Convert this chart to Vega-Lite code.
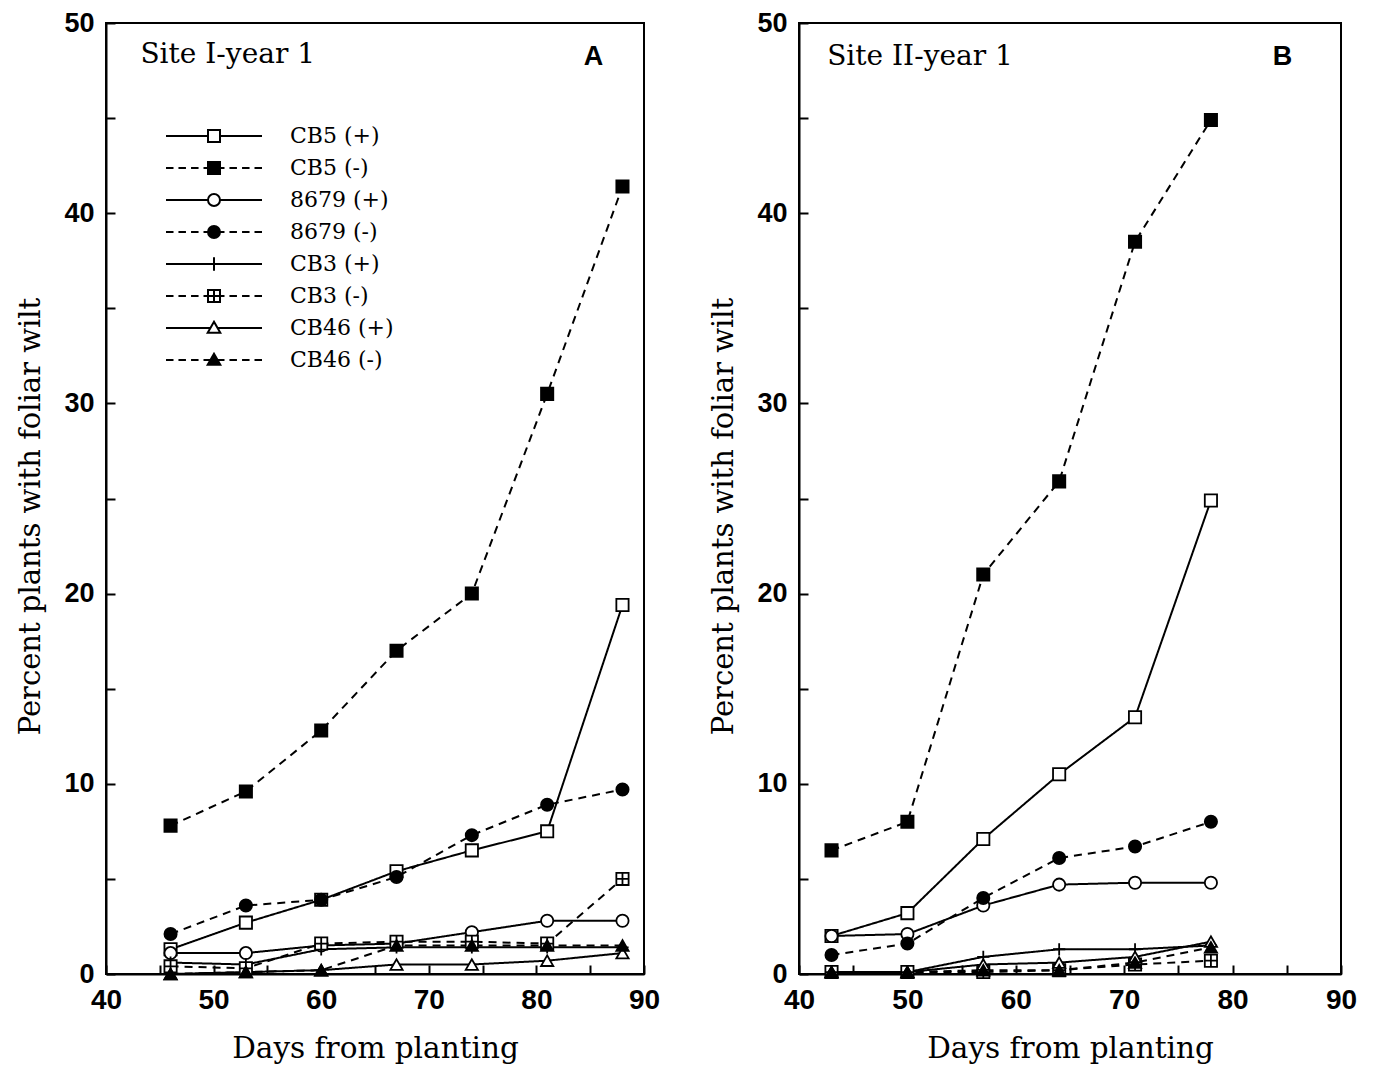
{
  "$schema": "https://vega.github.io/schema/vega-lite/v6.json",
  "background": "white",
  "padding": {"left": 15, "top": 8, "right": 10, "bottom": 2},
  "config": {
    "view": {"stroke": "black", "strokeWidth": 2},
    "axis": {
      "domainColor": "black", "domainWidth": 2, "tickColor": "black", "tickWidth": 2,
      "labelFont": "Liberation Sans", "labelFontWeight": "bold", "labelColor": "black", "labelFlush": false,
      "titleFont": "DejaVu Serif", "titleFontWeight": "normal", "titleColor": "black", "grid": false
    },
    "legend": {"padding": 0}
  },
  "datasets": {
    "siteA": [
      {"series": "CB5 (+)", "day": 46, "pct": 1.3}, {"series": "CB5 (+)", "day": 53, "pct": 2.7}, {"series": "CB5 (+)", "day": 60, "pct": 3.9}, {"series": "CB5 (+)", "day": 67, "pct": 5.4}, {"series": "CB5 (+)", "day": 74, "pct": 6.5}, {"series": "CB5 (+)", "day": 81, "pct": 7.5}, {"series": "CB5 (+)", "day": 88, "pct": 19.4},
      {"series": "CB5 (-)", "day": 46, "pct": 7.8}, {"series": "CB5 (-)", "day": 53, "pct": 9.6}, {"series": "CB5 (-)", "day": 60, "pct": 12.8}, {"series": "CB5 (-)", "day": 67, "pct": 17.0}, {"series": "CB5 (-)", "day": 74, "pct": 20.0}, {"series": "CB5 (-)", "day": 81, "pct": 30.5}, {"series": "CB5 (-)", "day": 88, "pct": 41.4},
      {"series": "8679 (+)", "day": 46, "pct": 1.1}, {"series": "8679 (+)", "day": 53, "pct": 1.1}, {"series": "8679 (+)", "day": 60, "pct": 1.5}, {"series": "8679 (+)", "day": 67, "pct": 1.6}, {"series": "8679 (+)", "day": 74, "pct": 2.2}, {"series": "8679 (+)", "day": 81, "pct": 2.8}, {"series": "8679 (+)", "day": 88, "pct": 2.8},
      {"series": "8679 (-)", "day": 46, "pct": 2.1}, {"series": "8679 (-)", "day": 53, "pct": 3.6}, {"series": "8679 (-)", "day": 60, "pct": 3.9}, {"series": "8679 (-)", "day": 67, "pct": 5.1}, {"series": "8679 (-)", "day": 74, "pct": 7.3}, {"series": "8679 (-)", "day": 81, "pct": 8.9}, {"series": "8679 (-)", "day": 88, "pct": 9.7},
      {"series": "CB3 (+)", "day": 46, "pct": 0.6}, {"series": "CB3 (+)", "day": 53, "pct": 0.5}, {"series": "CB3 (+)", "day": 60, "pct": 1.3}, {"series": "CB3 (+)", "day": 67, "pct": 1.4}, {"series": "CB3 (+)", "day": 74, "pct": 1.4}, {"series": "CB3 (+)", "day": 81, "pct": 1.4}, {"series": "CB3 (+)", "day": 88, "pct": 1.4},
      {"series": "CB3 (-)", "day": 46, "pct": 0.4}, {"series": "CB3 (-)", "day": 53, "pct": 0.3}, {"series": "CB3 (-)", "day": 60, "pct": 1.6}, {"series": "CB3 (-)", "day": 67, "pct": 1.7}, {"series": "CB3 (-)", "day": 74, "pct": 1.7}, {"series": "CB3 (-)", "day": 81, "pct": 1.6}, {"series": "CB3 (-)", "day": 88, "pct": 5.0},
      {"series": "CB46 (+)", "day": 46, "pct": 0.0}, {"series": "CB46 (+)", "day": 53, "pct": 0.1}, {"series": "CB46 (+)", "day": 60, "pct": 0.2}, {"series": "CB46 (+)", "day": 67, "pct": 0.5}, {"series": "CB46 (+)", "day": 74, "pct": 0.5}, {"series": "CB46 (+)", "day": 81, "pct": 0.7}, {"series": "CB46 (+)", "day": 88, "pct": 1.1},
      {"series": "CB46 (-)", "day": 46, "pct": 0.0}, {"series": "CB46 (-)", "day": 53, "pct": 0.1}, {"series": "CB46 (-)", "day": 60, "pct": 0.2}, {"series": "CB46 (-)", "day": 67, "pct": 1.5}, {"series": "CB46 (-)", "day": 74, "pct": 1.5}, {"series": "CB46 (-)", "day": 81, "pct": 1.5}, {"series": "CB46 (-)", "day": 88, "pct": 1.5}
    ],
    "siteB": [
      {"series": "CB5 (+)", "day": 43, "pct": 2.0}, {"series": "CB5 (+)", "day": 50, "pct": 3.2}, {"series": "CB5 (+)", "day": 57, "pct": 7.1}, {"series": "CB5 (+)", "day": 64, "pct": 10.5}, {"series": "CB5 (+)", "day": 71, "pct": 13.5}, {"series": "CB5 (+)", "day": 78, "pct": 24.9},
      {"series": "CB5 (-)", "day": 43, "pct": 6.5}, {"series": "CB5 (-)", "day": 50, "pct": 8.0}, {"series": "CB5 (-)", "day": 57, "pct": 21.0}, {"series": "CB5 (-)", "day": 64, "pct": 25.9}, {"series": "CB5 (-)", "day": 71, "pct": 38.5}, {"series": "CB5 (-)", "day": 78, "pct": 44.9},
      {"series": "8679 (+)", "day": 43, "pct": 2.0}, {"series": "8679 (+)", "day": 50, "pct": 2.1}, {"series": "8679 (+)", "day": 57, "pct": 3.6}, {"series": "8679 (+)", "day": 64, "pct": 4.7}, {"series": "8679 (+)", "day": 71, "pct": 4.8}, {"series": "8679 (+)", "day": 78, "pct": 4.8},
      {"series": "8679 (-)", "day": 43, "pct": 1.0}, {"series": "8679 (-)", "day": 50, "pct": 1.6}, {"series": "8679 (-)", "day": 57, "pct": 4.0}, {"series": "8679 (-)", "day": 64, "pct": 6.1}, {"series": "8679 (-)", "day": 71, "pct": 6.7}, {"series": "8679 (-)", "day": 78, "pct": 8.0},
      {"series": "CB3 (+)", "day": 43, "pct": 0.1}, {"series": "CB3 (+)", "day": 50, "pct": 0.1}, {"series": "CB3 (+)", "day": 57, "pct": 0.9}, {"series": "CB3 (+)", "day": 64, "pct": 1.3}, {"series": "CB3 (+)", "day": 71, "pct": 1.3}, {"series": "CB3 (+)", "day": 78, "pct": 1.5},
      {"series": "CB3 (-)", "day": 43, "pct": 0.1}, {"series": "CB3 (-)", "day": 50, "pct": 0.1}, {"series": "CB3 (-)", "day": 57, "pct": 0.1}, {"series": "CB3 (-)", "day": 64, "pct": 0.2}, {"series": "CB3 (-)", "day": 71, "pct": 0.5}, {"series": "CB3 (-)", "day": 78, "pct": 0.7},
      {"series": "CB46 (+)", "day": 43, "pct": 0.1}, {"series": "CB46 (+)", "day": 50, "pct": 0.1}, {"series": "CB46 (+)", "day": 57, "pct": 0.5}, {"series": "CB46 (+)", "day": 64, "pct": 0.6}, {"series": "CB46 (+)", "day": 71, "pct": 0.9}, {"series": "CB46 (+)", "day": 78, "pct": 1.7},
      {"series": "CB46 (-)", "day": 43, "pct": 0.1}, {"series": "CB46 (-)", "day": 50, "pct": 0.1}, {"series": "CB46 (-)", "day": 57, "pct": 0.2}, {"series": "CB46 (-)", "day": 64, "pct": 0.2}, {"series": "CB46 (-)", "day": 71, "pct": 0.6}, {"series": "CB46 (-)", "day": 78, "pct": 1.4}
    ],
    "labelA": [{"site": "Site I-year 1", "letter": "A"}],
    "labelB": [{"site": "Site II-year 1", "letter": "B"}]
  },
  "spacing": 47,
  "resolve": {
    "scale": {"shape": "independent", "fill": "independent", "strokeDash": "independent", "stroke": "independent"},
    "legend": {"shape": "independent", "fill": "independent", "strokeDash": "independent", "stroke": "independent"}
  },
  "hconcat": [
    {
      "width": 538,
      "height": 951,
      "encoding": {
        "x": {"type": "quantitative", "scale": {"domain": [40, 90], "nice": false, "zero": false},
          "axis": {"title": "Days from planting", "titleFontSize": 29.5, "titlePadding": 20, "values": [40, 45, 50, 55, 60, 65, 70, 75, 80, 85, 90],
            "labelExpr": "datum.value % 10 === 0 ? datum.label : ''", "labelFontSize": 28, "labelPadding": 21, "tickSize": -9}},
        "y": {"type": "quantitative", "scale": {"domain": [0, 50], "nice": false},
          "axis": {"title": "Percent plants with foliar wilt", "titleFontSize": 29, "titlePadding": 18, "titleY": 493, "values": [0, 5, 10, 15, 20, 25, 30, 35, 40, 45, 50],
            "labelExpr": "datum.value % 10 === 0 ? datum.label : ''", "labelFontSize": 27, "labelPadding": 21, "tickSize": -9}}
      },
      "layer": [
        {
          "data": {"name": "siteA"},
          "mark": {"type": "line", "stroke": "black", "strokeWidth": 2},
          "encoding": {
            "x": {"field": "day", "type": "quantitative"},
            "y": {"field": "pct", "type": "quantitative"},
            "detail": {"field": "series"},
            "strokeDash": {"field": "series", "type": "nominal", "legend": null,
              "scale": {"domain": ["CB5 (+)", "CB5 (-)", "8679 (+)", "8679 (-)", "CB3 (+)", "CB3 (-)", "CB46 (+)", "CB46 (-)"],
                "range": [[1, 0], [8, 6], [1, 0], [8, 6], [1, 0], [8, 6], [1, 0], [8, 6]]}}
          }
        },
        {
          "data": {"name": "siteA"},
          "mark": {"type": "point", "filled": true, "stroke": "black", "strokeWidth": 1.8, "size": 150, "opacity": 1},
          "encoding": {
            "x": {"field": "day", "type": "quantitative"},
            "y": {"field": "pct", "type": "quantitative"},
            "shape": {"field": "series", "type": "nominal", "legend": null,
              "scale": {"domain": ["CB5 (+)", "CB5 (-)", "8679 (+)", "8679 (-)", "CB3 (+)", "CB3 (-)", "CB46 (+)", "CB46 (-)"],
                "range": ["square", "square", "circle", "circle", "M0,-1V1M-1,0H1", "M-1,-1H1V1H-1ZM0,-1V1M-1,0H1", "triangle-up", "triangle-up"]}},
            "fill": {"field": "series", "type": "nominal", "legend": null,
              "scale": {"domain": ["CB5 (+)", "CB5 (-)", "8679 (+)", "8679 (-)", "CB3 (+)", "CB3 (-)", "CB46 (+)", "CB46 (-)"],
                "range": ["white", "black", "white", "black", "white", "white", "white", "black"]}}
          }
        },
        {
          "data": {"name": "siteA"},
          "transform": [{"filter": "false"}],
          "mark": {"type": "point", "filled": true, "stroke": "black", "strokeWidth": 2, "opacity": 1},
          "encoding": {
            "x": {"field": "day", "type": "quantitative"},
            "y": {"field": "pct", "type": "quantitative"},
            "shape": {"field": "series", "type": "nominal", "title": null,
              "scale": {"domain": ["CB5 (+)", "CB5 (-)", "8679 (+)", "8679 (-)", "CB3 (+)", "CB3 (-)", "CB46 (+)", "CB46 (-)"],
                "range": [
                  "M-3.2,0H-0.4M0.4,0H3.2M-0.4,-0.4H0.4V0.4H-0.4Z",
                  "M-3.2,0H-2.7M-2.37,0H-1.87M-1.53,0H-1.03M-0.7,0H-0.4M0.4,0H0.7M1.03,0H1.53M1.87,0H2.37M2.7,0H3.2M-0.4,-0.4H0.4V0.4H-0.4Z",
                  "M-3.2,0H-0.4M0.4,0H3.2M-0.4,0A0.4,0.4,0,1,0,0.4,0A0.4,0.4,0,1,0,-0.4,0Z",
                  "M-3.2,0H-2.7M-2.37,0H-1.87M-1.53,0H-1.03M-0.7,0H-0.4M0.4,0H0.7M1.03,0H1.53M1.87,0H2.37M2.7,0H3.2M-0.4,0A0.4,0.4,0,1,0,0.4,0A0.4,0.4,0,1,0,-0.4,0Z",
                  "M-3.2,0H3.2M0,-0.45V0.45",
                  "M-3.2,0H-2.7M-2.37,0H-1.87M-1.53,0H-1.03M-0.7,0H-0.4M0.4,0H0.7M1.03,0H1.53M1.87,0H2.37M2.7,0H3.2M-0.4,-0.4H0.4V0.4H-0.4ZM0,-0.4V0.4M-0.4,0H0.4",
                  "M-3.2,0H-0.24M0.24,0H3.2M0,-0.42L0.42,0.32H-0.42Z",
                  "M-3.2,0H-2.7M-2.37,0H-1.87M-1.53,0H-1.03M-0.7,0H-0.24M0.24,0H0.7M1.03,0H1.53M1.87,0H2.37M2.7,0H3.2M0,-0.42L0.42,0.32H-0.42Z"
                ]},
              "legend": {"orient": "none", "legendX": 92, "legendY": 97, "symbolSize": 900, "symbolStrokeWidth": 2, "symbolStrokeColor": "black",
                "labelFont": "DejaVu Serif", "labelFontSize": 22, "labelColor": "black", "labelOffset": 60, "rowPadding": 5, "labelLimit": 300}},
            "fill": {"field": "series", "type": "nominal", "title": null,
              "scale": {"domain": ["CB5 (+)", "CB5 (-)", "8679 (+)", "8679 (-)", "CB3 (+)", "CB3 (-)", "CB46 (+)", "CB46 (-)"],
                "range": ["white", "black", "white", "black", "white", "white", "white", "black"]},
              "legend": {"orient": "none", "legendX": 92, "legendY": 97, "symbolSize": 900, "symbolStrokeWidth": 2, "symbolStrokeColor": "black",
                "labelFont": "DejaVu Serif", "labelFontSize": 22, "labelColor": "black", "labelOffset": 60, "rowPadding": 5, "labelLimit": 300}},
            "stroke": {"field": "series", "type": "nominal", "title": null,
              "scale": {"domain": ["CB5 (+)", "CB5 (-)", "8679 (+)", "8679 (-)", "CB3 (+)", "CB3 (-)", "CB46 (+)", "CB46 (-)"],
                "range": ["black", "black", "black", "black", "black", "black", "black", "black"]},
              "legend": {"orient": "none", "legendX": 92, "legendY": 97, "symbolSize": 900, "symbolStrokeWidth": 2,
                "labelFont": "DejaVu Serif", "labelFontSize": 22, "labelColor": "black", "labelOffset": 60, "rowPadding": 5, "labelLimit": 300}}
          }
        },
        {
          "data": {"name": "labelA"},
          "mark": {"type": "text", "align": "left", "baseline": "middle", "font": "DejaVu Serif", "fontSize": 28, "color": "black"},
          "encoding": {"x": {"datum": 43.2}, "y": {"datum": 48.3}, "text": {"field": "site"}}
        },
        {
          "data": {"name": "labelA"},
          "mark": {"type": "text", "align": "center", "baseline": "middle", "font": "Liberation Sans", "fontWeight": "bold", "fontSize": 27, "color": "black"},
          "encoding": {"x": {"datum": 85.3}, "y": {"datum": 48.2}, "text": {"field": "letter"}}
        }
      ],
      "resolve": {"scale": {"shape": "independent", "fill": "independent", "stroke": "independent"}, "legend": {"shape": "independent", "fill": "independent", "stroke": "independent"}}
    },
    {
      "width": 542,
      "height": 951,
      "encoding": {
        "x": {"type": "quantitative", "scale": {"domain": [40, 90], "nice": false, "zero": false},
          "axis": {"title": "Days from planting", "titleFontSize": 29.5, "titlePadding": 20, "values": [40, 45, 50, 55, 60, 65, 70, 75, 80, 85, 90],
            "labelExpr": "datum.value % 10 === 0 ? datum.label : ''", "labelFontSize": 28, "labelPadding": 21, "tickSize": -9}},
        "y": {"type": "quantitative", "scale": {"domain": [0, 50], "nice": false},
          "axis": {"title": "Percent plants with foliar wilt", "titleFontSize": 29, "titlePadding": 18, "titleY": 493, "values": [0, 5, 10, 15, 20, 25, 30, 35, 40, 45, 50],
            "labelExpr": "datum.value % 10 === 0 ? datum.label : ''", "labelFontSize": 27, "labelPadding": 21, "tickSize": -9}}
      },
      "layer": [
        {
          "data": {"name": "siteB"},
          "mark": {"type": "line", "stroke": "black", "strokeWidth": 2},
          "encoding": {
            "x": {"field": "day", "type": "quantitative"},
            "y": {"field": "pct", "type": "quantitative"},
            "detail": {"field": "series"},
            "strokeDash": {"field": "series", "type": "nominal", "legend": null,
              "scale": {"domain": ["CB5 (+)", "CB5 (-)", "8679 (+)", "8679 (-)", "CB3 (+)", "CB3 (-)", "CB46 (+)", "CB46 (-)"],
                "range": [[1, 0], [8, 6], [1, 0], [8, 6], [1, 0], [8, 6], [1, 0], [8, 6]]}}
          }
        },
        {
          "data": {"name": "siteB"},
          "mark": {"type": "point", "filled": true, "stroke": "black", "strokeWidth": 1.8, "size": 150, "opacity": 1},
          "encoding": {
            "x": {"field": "day", "type": "quantitative"},
            "y": {"field": "pct", "type": "quantitative"},
            "shape": {"field": "series", "type": "nominal", "legend": null,
              "scale": {"domain": ["CB5 (+)", "CB5 (-)", "8679 (+)", "8679 (-)", "CB3 (+)", "CB3 (-)", "CB46 (+)", "CB46 (-)"],
                "range": ["square", "square", "circle", "circle", "M0,-1V1M-1,0H1", "M-1,-1H1V1H-1ZM0,-1V1M-1,0H1", "triangle-up", "triangle-up"]}},
            "fill": {"field": "series", "type": "nominal", "legend": null,
              "scale": {"domain": ["CB5 (+)", "CB5 (-)", "8679 (+)", "8679 (-)", "CB3 (+)", "CB3 (-)", "CB46 (+)", "CB46 (-)"],
                "range": ["white", "black", "white", "black", "white", "white", "white", "black"]}}
          }
        },
        {
          "data": {"name": "labelB"},
          "mark": {"type": "text", "align": "left", "baseline": "middle", "font": "DejaVu Serif", "fontSize": 28, "color": "black"},
          "encoding": {"x": {"datum": 42.6}, "y": {"datum": 48.2}, "text": {"field": "site"}}
        },
        {
          "data": {"name": "labelB"},
          "mark": {"type": "text", "align": "center", "baseline": "middle", "font": "Liberation Sans", "fontWeight": "bold", "fontSize": 27, "color": "black"},
          "encoding": {"x": {"datum": 84.6}, "y": {"datum": 48.2}, "text": {"field": "letter"}}
        }
      ]
    }
  ]
}
